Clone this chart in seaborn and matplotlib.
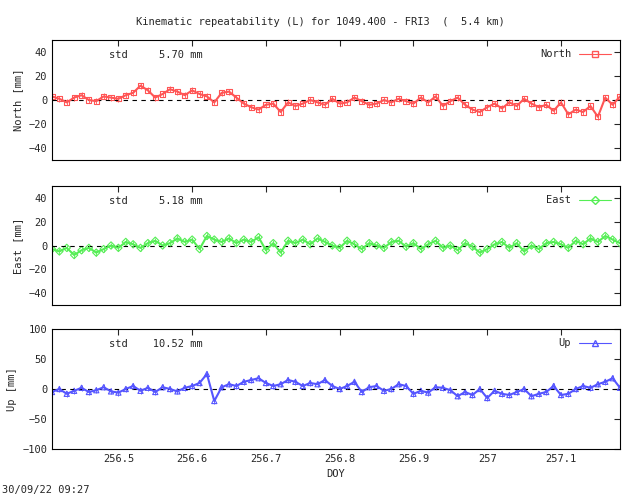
import numpy as np
import pandas as pd
import matplotlib
matplotlib.use("Agg")
import matplotlib.pyplot as plt
import seaborn as sns

doy = [256.41 + 0.01 * i for i in range(78)]
north = [3, 1, -2, 2, 4, 0, -1, 3, 2, 1, 4, 6, 12, 8, 2, 5, 9, 7, 4, 8,
         5, 3, -2, 6, 7, 2, -3, -6, -8, -4, -3, -10, -2, -5, -3, 0, -2, -4, 1, -3,
         -2, 2, -1, -4, -3, 0, -2, 1, -1, -3, 2, -2, 3, -5, -1, 2, -4, -8, -10, -6,
         -3, -7, -2, -5, 1, -3, -6, -4, -9, -2, -12, -8, -10, -5, -14, 2, -4, 3]
east = [-3, -5, -2, -8, -4, -2, -6, -3, 0, -2, 3, 1, -2, 2, 4, 0, 2, 6, 3, 5,
        -3, 8, 5, 3, 6, 2, 5, 3, 7, -4, 2, -6, 4, 2, 5, 1, 6, 3, 0, -2,
        4, 1, -3, 2, 0, -2, 3, 4, -1, 2, -3, 1, 4, -2, 0, -4, 2, -1, -6, -3,
        1, 3, -2, 2, -5, 0, -3, 2, 3, 1, -2, 4, 1, 6, 3, 8, 5, 2]
up = [-5, 0, -8, -3, 2, -5, -2, 3, -4, -6, 0, 5, -3, 2, -5, 3, 0, -4, 2, 5,
      10, 25, -20, 3, 8, 5, 12, 15, 18, 10, 5, 8, 15, 12, 5, 10, 8, 15, 5, 0,
      5, 12, -5, 3, 5, -3, 0, 8, 5, -8, -3, -6, 3, 2, -2, -12, -5, -10, 0, -15,
      -3, -8, -10, -5, 0, -12, -8, -5, 5, -10, -8, 0, 5, 2, 8, 12, 18, 2]
names = ["North", "East", "Up"]
stds = ["5.70", "5.18", "10.52"]
colors = ["#ff5555", "#55ee55", "#5555ff"]
markers = ["s", "D", "^"]
ylims = [(-50, 50), (-50, 50), (-100, 100)]
yticks = [[-40, -20, 0, 20, 40], [-40, -20, 0, 20, 40], [-100, -50, 0, 50, 100]]
xticks = [256.5, 256.6, 256.7, 256.8, 256.9, 257, 257.1]
xticklabels = ["256.5", "256.6", "256.7", "256.8", "256.9", "257", "257.1"]

sns.set_style("white")
plt.rcParams["font.family"] = "DejaVu Sans Mono"
plt.rcParams["font.size"] = 7.5
fig = plt.figure(figsize=(6.4, 4.96), dpi=100)
boxes = [(40, 160), (186, 305), (329, 449)]
for k, (vals, name) in enumerate(zip([north, east, up], names)):
    t, b = boxes[k]
    ax = fig.add_axes([52 / 640, 1 - b / 496, 568 / 640, (b - t) / 496])
    df = pd.DataFrame({"doy": doy, "v": vals})
    ax.axhline(0, color="black", ls=(0, (4, 4)), lw=0.8)
    ax.errorbar(df.doy, df.v, yerr=2.5 if k < 2 else 5, fmt="none", ecolor=colors[k], lw=0.6)
    sns.lineplot(data=df, x="doy", y="v", ax=ax, color=colors[k], lw=1.5)
    sns.scatterplot(data=df, x="doy", y="v", ax=ax, marker=markers[k], s=14,
                    facecolor="none", edgecolor=colors[k], linewidth=0.8)
    ax.plot([], [], marker=markers[k], color=colors[k], mfc="none", ms=4, lw=0.8, label=name)
    ax.legend(loc="upper right", frameon=False, markerfirst=False, handlelength=3)
    ax.set_xlim(256.41, 257.18)
    ax.set_ylim(*ylims[k])
    ax.set_yticks(yticks[k])
    ax.set_xticks(xticks)
    ax.set_xticklabels(xticklabels if k == 2 else [])
    ax.set_ylabel(f"{name} [mm]")
    ax.set_xlabel("DOY" if k == 2 else "")
    ax.tick_params(direction="in", length=4, top=True, right=True)
    for s in ax.spines.values():
        s.set_color("black"); s.set_linewidth(0.8)
    ax.text(0.1, 0.92, f"std    {stds[k]:>5} mm", transform=ax.transAxes, va="top")
fig.text(0.5, 1 - 22 / 496, "Kinematic repeatability (L) for 1049.400 - FRI3  (  5.4 km)",
         ha="center", va="center")
fig.text(2 / 640, 1 - 490 / 496, "30/09/22 09:27", va="center")
fig.savefig("out.png", dpi=100)
